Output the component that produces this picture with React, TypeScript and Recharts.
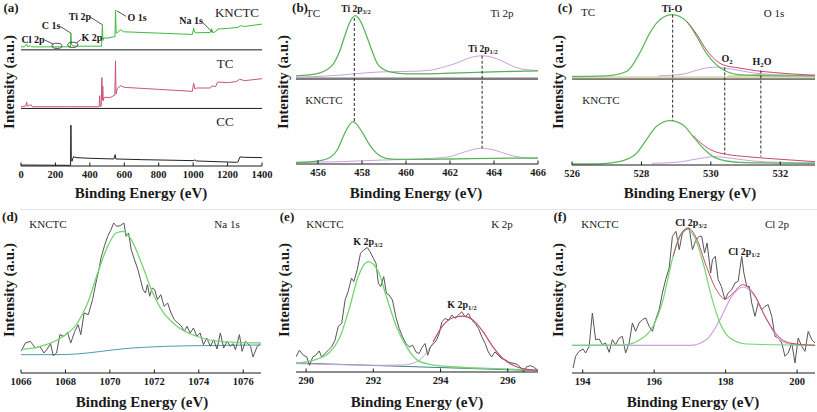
import React from 'react'
import { ComposedChart, Line, XAxis, YAxis, ReferenceLine, ReferenceDot } from 'recharts'

const SERIF = '"Liberation Serif", "Times New Roman", Tinos, serif'
const INK = '#1a1a1a'
const GREEN = '#72d672'
const PURPLE = '#cca0de'
const RED = '#c44a6c'
const RAW = '#555555'

// ---- (a) survey spectra, stacked (y = height) ----
const A_TICKS = [0, 200, 400, 600, 800, 1000, 1200, 1400]
const A_MINOR = [100, 300, 500, 700, 900, 1100, 1300]
const A_KNCTC_X = [0, 20, 33, 38, 55, 62, 150, 280, 287, 290, 293, 300, 330, 468, 473, 476, 480, 500, 540, 546, 549, 553, 562, 578, 595, 700, 800, 900, 995, 1003, 1008, 1020, 1100, 1108, 1113, 1130, 1142, 1200, 1260, 1275, 1300, 1400]
const A_KNCTC = [356, 356, 364, 357, 359, 356, 356, 356, 356, 397, 364, 359, 358, 358, 422, 375, 383, 382, 386, 386, 465, 397, 399, 407, 401, 399, 397, 395, 393, 412, 400, 398, 399, 410, 399, 401, 409, 411, 414, 419, 417, 424]
const A_TC_X = [0, 28, 33, 37, 58, 65, 280, 450, 454, 457, 460, 466, 470, 472, 475, 478, 482, 520, 545, 549, 552, 560, 580, 600, 800, 995, 1003, 1010, 1020, 1100, 1110, 1130, 1142, 1200, 1250, 1270, 1300, 1400]
const A_TC = [177, 179, 191, 179, 183, 177, 177, 177, 177, 210, 178, 179, 264, 197, 239, 195, 205, 205, 212, 314, 215, 232, 240, 235, 229, 223, 247, 230, 233, 233, 239, 237, 251, 249, 252, 259, 255, 261]
const A_CC_X = [0, 285, 288, 290, 292, 296, 305, 320, 400, 540, 547, 551, 700, 900, 1000, 1010, 1020, 1250, 1260, 1272, 1300, 1400]
const A_CC = [3, 2, 2, 122, 20, 14, 28, 25, 23, 21, 34, 21, 19, 17, 16, 18, 15, 11, 12, 27, 26, 25]

// ---- (b) Ti 2p ----
const B_TICKS = [456, 458, 460, 462, 464, 466]
const B_MINOR = [455, 457, 459, 461, 463, 465]
const B_TC_P32_X = [455, 455.5, 456, 456.4, 456.7, 457, 457.2, 457.45, 457.7, 457.95, 458.2, 458.45, 458.7, 459, 459.4, 460, 461, 462, 464, 466]
const B_TC_P32 = [264, 266, 271, 282, 300, 340, 380, 425, 444, 425, 385, 340, 300, 283, 274, 270, 270, 272, 276, 279]
const B_TC_P12_X = [455, 456, 457, 458, 459, 460, 461, 461.8, 462.3, 462.8, 463.46, 464, 464.5, 465, 465.5, 466]
const B_TC_P12 = [260, 262, 266, 272, 276, 277, 280, 292, 302, 316, 324, 318, 304, 289, 282, 280]
const B_K_P32_X = [455, 455.5, 456, 456.5, 456.9, 457.2, 457.6, 458, 458.3, 458.7, 459.1, 459.6, 460.5, 462, 464, 466]
const B_K_P32 = [5, 6, 9, 18, 45, 90, 127, 96, 62, 30, 17, 14, 14, 15, 17, 18]
const B_K_P12_X = [455, 457, 459, 461, 462, 462.7, 463.4, 464, 464.6, 465.2, 466]
const B_K_P12 = [4, 7, 12, 16, 22, 37, 47, 42, 29, 20, 16]

// ---- (c) O 1s ----
const C_TICKS = [526, 528, 530, 532]
const C_MINOR = [527, 529, 531, 533]
const C_TC_TIO_X = [526, 526.99, 527.57, 527.95, 528.24, 528.53, 528.89, 529.3, 529.59, 529.87, 530.16, 530.45, 530.84, 531.8, 533]
const C_TC_TIO = [265, 267, 280, 335, 395, 435, 450, 430, 385, 335, 300, 280, 270, 267, 267]
const C_TC_SUM_X = [529.3, 529.59, 529.87, 530.35, 530.84, 531.32, 531.8, 532.77, 533]
const C_TC_SUM = [430, 392, 345, 300, 290, 282, 277, 270, 269]
const C_TC_O2_X = [528.5, 529.2, 529.6, 530.1, 530.6, 531.2, 531.8, 533]
const C_TC_O2 = [267, 272, 284, 293, 287, 276, 270, 267]
const C_TC_H2O_X = [530.5, 531, 531.5, 532, 532.5, 533]
const C_TC_H2O = [266, 268, 272, 270, 268, 267]
const C_K_TIO_X = [526, 526.5, 526.99, 527.47, 527.86, 528.14, 528.43, 528.82, 529.2, 529.49, 529.78, 530.07, 530.45, 531.03, 533]
const C_K_TIO = [3, 3, 5, 13, 35, 75, 115, 133, 120, 85, 50, 25, 12, 7, 5]
const C_K_SUM_X = [529.49, 529.78, 530.07, 530.45, 531.03, 531.6, 532.3, 533]
const C_K_SUM = [88, 60, 42, 32, 25, 20, 15, 10]
const C_K_O2_X = [528.3, 529, 529.6, 530.1, 530.6, 531.2, 532, 533]
const C_K_O2 = [5, 8, 18, 25, 20, 12, 8, 6]

// ---- (d) Na 1s ----
const D_TICKS = [1066, 1068, 1070, 1072, 1074, 1076]
const D_MINOR = [1067, 1069, 1071, 1073, 1075]
const D_RAW_X = [1066.0, 1066.2, 1066.42, 1066.65, 1066.85, 1067.03, 1067.18, 1067.33, 1067.45, 1067.6, 1067.75, 1067.94, 1068.09, 1068.24, 1068.42, 1068.57, 1068.69, 1068.84, 1069.03, 1069.22, 1069.37, 1069.49, 1069.6, 1069.75, 1069.9, 1070.05, 1070.17, 1070.31, 1070.46, 1070.63, 1070.73, 1070.84, 1070.96, 1071.08, 1071.16, 1071.26, 1071.38, 1071.49, 1071.6, 1071.69, 1071.79, 1071.9, 1072.02, 1072.14, 1072.29, 1072.44, 1072.6, 1072.75, 1072.9, 1073.05, 1073.2, 1073.35, 1073.47, 1073.61, 1073.76, 1073.91, 1074.06, 1074.21, 1074.36, 1074.52, 1074.67, 1074.82, 1074.97, 1075.12, 1075.27, 1075.42, 1075.54, 1075.65, 1075.83, 1075.95, 1076.1, 1076.33, 1076.44, 1076.63, 1076.74]
const D_RAW = [65, 90, 95, 75, 80, 60, 72, 88, 52, 60, 115, 110, 122, 90, 125, 145, 115, 180, 175, 220, 270, 305, 345, 380, 410, 430, 450, 440, 442, 450, 410, 420, 370, 345, 330, 310, 280, 250, 240, 265, 230, 255, 250, 220, 235, 200, 210, 180, 160, 150, 142, 125, 140, 120, 135, 110, 120, 85, 105, 80, 100, 72, 120, 75, 95, 80, 88, 70, 115, 65, 95, 80, 48, 80, 85]
const D_FIT_X = [1066, 1066.88, 1067.78, 1068.54, 1069.0, 1069.45, 1069.9, 1070.28, 1070.58, 1070.96, 1071.42, 1071.87, 1072.32, 1072.93, 1073.53, 1074.14, 1074.9, 1075.65, 1076.8]
const D_FIT = [70, 80, 105, 150, 210, 300, 380, 420, 425, 400, 330, 250, 190, 145, 120, 105, 95, 92, 90]
const D_BG_X = [1066, 1067.5, 1068.5, 1069.5, 1070.5, 1071.5, 1072.5, 1074, 1076.8]
const D_BG = [55, 55, 57, 64, 72, 77, 80, 82, 84]

// ---- (e) K 2p ----
const E_TICKS = [290, 292, 294, 296]
const E_MINOR = [291, 293, 295]
const E_RAW_X = [289.7, 289.8, 289.92, 290.02, 290.1, 290.2, 290.29, 290.39, 290.46, 290.56, 290.66, 290.76, 290.86, 290.96, 291.06, 291.16, 291.25, 291.35, 291.42, 291.52, 291.62, 291.72, 291.82, 291.9, 292.0, 292.08, 292.15, 292.22, 292.31, 292.39, 292.47, 292.57, 292.67, 292.77, 292.87, 292.97, 293.07, 293.17, 293.27, 293.36, 293.46, 293.54, 293.62, 293.7, 293.8, 293.88, 293.96, 294.04, 294.14, 294.24, 294.34, 294.43, 294.53, 294.63, 294.73, 294.83, 294.93, 295.03, 295.13, 295.23, 295.33, 295.42, 295.52, 295.62, 295.72, 295.82, 295.92, 296.02, 296.12, 296.22, 296.32, 296.41, 296.47, 296.55, 296.67, 296.77, 296.9]
const E_RAW = [45, 65, 50, 45, 20, 45, 50, 63, 45, 55, 65, 75, 95, 137, 145, 215, 240, 280, 270, 305, 355, 365, 372, 360, 340, 325, 265, 255, 285, 235, 230, 215, 165, 130, 105, 85, 75, 80, 60, 55, 75, 85, 50, 75, 85, 95, 115, 150, 160, 155, 170, 160, 170, 180, 165, 175, 155, 145, 130, 105, 85, 60, 45, 60, 50, 40, 37, 30, 27, 25, 20, 10, 0, 15, 19, 15, 5]
const E_P32_X = [289.7, 290.21, 290.71, 291.01, 291.3, 291.55, 291.85, 292.15, 292.39, 292.69, 292.99, 293.29, 293.68, 294.47, 295.66, 296.9]
const E_P32 = [27, 35, 60, 105, 195, 285, 330, 300, 225, 135, 75, 37, 23, 15, 10, 5]
const E_P12_X = [293.78, 294.08, 294.37, 294.65, 294.97, 295.27, 295.56, 295.86, 296.16, 296.45, 296.9]
const E_P12 = [90, 140, 162, 167, 155, 120, 75, 40, 20, 10, 5]
const E_LILAC_X = [289.7, 290.91, 292.2, 292.89, 293.29, 293.58, 293.78]
const E_LILAC = [25, 22, 20, 21, 30, 58, 88]
const E_BG_X = [289.7, 296.9]
const E_BG = [27, 4]

// ---- (f) Cl 2p ----
const F_TICKS = [194, 196, 198, 200]
const F_MINOR = [195, 197, 199]
const F_RAW_X = [193.73, 193.8, 193.9, 194.01, 194.08, 194.18, 194.27, 194.36, 194.46, 194.55, 194.64, 194.74, 194.83, 194.92, 195.02, 195.11, 195.2, 195.3, 195.39, 195.48, 195.58, 195.67, 195.76, 195.86, 195.95, 196.04, 196.14, 196.23, 196.32, 196.42, 196.51, 196.61, 196.7, 196.79, 196.89, 196.98, 197.07, 197.17, 197.26, 197.33, 197.41, 197.48, 197.58, 197.63, 197.71, 197.79, 197.88, 197.98, 198.07, 198.17, 198.26, 198.35, 198.45, 198.51, 198.59, 198.66, 198.73, 198.82, 198.91, 199.01, 199.1, 199.19, 199.29, 199.38, 199.47, 199.57, 199.66, 199.75, 199.85, 199.94, 200.03, 200.13, 200.22, 200.31, 200.41, 200.5]
const F_RAW = [15, 50, 65, 72, 60, 80, 180, 100, 102, 85, 90, 62, 100, 85, 105, 110, 60, 90, 150, 125, 150, 160, 165, 140, 125, 160, 190, 240, 280, 315, 410, 425, 370, 420, 430, 435, 370, 400, 410, 410, 360, 390, 300, 340, 350, 280, 260, 220, 240, 250, 270, 275, 350, 300, 260, 260, 210, 170, 210, 190, 200, 205, 170, 110, 105, 90, 50, 60, 90, 30, 105, 80, 65, 125, 100, 90]
const F_P32_X = [193.7, 195.13, 195.6, 195.97, 196.25, 196.48, 196.67, 196.9, 197.14, 197.37, 197.6, 197.84, 198.12, 198.59, 200.5]
const F_P32 = [83, 84, 100, 140, 220, 330, 400, 432, 405, 330, 230, 150, 105, 87, 83]
const F_P12_X = [193.7, 197.0, 197.46, 197.84, 198.17, 198.49, 198.82, 199.15, 199.43, 199.8, 200.5]
const F_P12 = [83, 83, 100, 160, 230, 258, 230, 160, 110, 87, 83]
const F_SUM_X = [196.53, 196.72, 196.95, 197.18, 197.46, 197.74, 197.98, 198.21, 198.47, 198.77, 199.1, 199.43, 199.8, 200.5]
const F_SUM = [350, 410, 435, 405, 320, 250, 222, 240, 265, 240, 170, 115, 90, 83]

const pts = (xs: number[], ys: number[]) => xs.map((x, i) => ({ x, y: ys[i] }))

type Series = { data: { x: number; y: number }[]; color: string; width?: number; curve?: 'linear' | 'monotone'; opacity?: number }
type Seg = { x1: number; y1: number; x2: number; y2: number; dash?: boolean }

interface PanelProps {
  left: number
  top: number
  w: number
  h: number
  xDomain: [number, number]
  ticks: number[]
  minor: number[]
  yMax: number
  series: Series[]
  segs?: Seg[]
  seps?: { y: number; color: string; width: number }[]
  rings?: { x: number; y: number }[]
}

const PAD = 16
const AX = 22

function Panel({ left, top, w, h, xDomain, ticks, minor, yMax, series, segs = [], seps = [], rings = [] }: PanelProps) {
  return (
    <div style={{ position: 'absolute', left: left - PAD, top: top - 2 }}>
      <ComposedChart width={w + PAD * 2} height={h + 2 + AX} margin={{ top: 2, right: PAD, bottom: 0, left: PAD }}>
        <XAxis xAxisId="m" type="number" dataKey="x" domain={xDomain} ticks={minor} interval={0} height={0}
          tickSize={-2} tickFormatter={() => ''} axisLine={false} stroke={INK} allowDataOverflow />
        <XAxis type="number" dataKey="x" domain={xDomain} ticks={ticks} interval={0} height={AX}
          tickSize={-3.5} tickMargin={8} stroke={INK} allowDataOverflow
          tick={{ fontSize: 10.5, fontWeight: 700, fill: INK, fontFamily: SERIF }} />
        <XAxis xAxisId="t" orientation="top" type="number" domain={xDomain} height={0} tick={false} tickLine={false} stroke={INK} />
        <YAxis type="number" domain={[0, yMax]} width={0} tick={false} tickLine={false} stroke={INK} allowDataOverflow />
        <YAxis yAxisId="r" orientation="right" type="number" domain={[0, 1]} width={0} tick={false} tickLine={false} stroke={INK} />
        {seps.map((s, i) => (
          <ReferenceLine key={'s' + i} y={s.y} stroke={s.color} strokeWidth={s.width} />
        ))}
        {series.map((s, i) => (
          <Line key={i} data={s.data} dataKey="y" type={s.curve ?? 'linear'} stroke={s.color}
            strokeWidth={s.width ?? 1} strokeOpacity={s.opacity ?? 1} dot={false} activeDot={false}
            isAnimationActive={false} />
        ))}
        {segs.map((s, i) => (
          <ReferenceLine key={'g' + i} segment={[{ x: s.x1, y: s.y1 }, { x: s.x2, y: s.y2 }]}
            stroke="#2a2a2a" strokeWidth={s.dash ? 1 : 0.8} strokeDasharray={s.dash ? '3 2' : undefined} />
        ))}
        {rings.map((r, i) => (
          <ReferenceDot key={'r' + i} x={r.x} y={r.y} r={4}
            shape={(p: any) => <ellipse cx={p.cx} cy={p.cy} rx={5} ry={2.6} fill="none" stroke="#2a2a2a" strokeWidth={0.8} />} />
        ))}
      </ComposedChart>
    </div>
  )
}

function Txt({ x, y, bold, size = 11, rotate, children }: { x: number; y: number; bold?: boolean; size?: number; rotate?: boolean; children: React.ReactNode }) {
  return (
    <div style={{
      position: 'absolute', left: x, top: y, whiteSpace: 'nowrap', lineHeight: 1,
      transform: `translate(-50%, -50%)${rotate ? ' rotate(-90deg)' : ''}`,
      fontFamily: SERIF, fontSize: size, fontWeight: bold ? 700 : 400, color: INK,
    }}>{children}</div>
  )
}

const Sub = ({ c }: { c: string }) => (
  <span style={{ fontSize: '0.68em', position: 'relative', top: '0.3em' }}>{c}</span>
)

const XT = 'Binding Energy (eV)'
const YT = 'Intensity (a.u.)'

export default function App() {
  return (
    <div style={{ position: 'absolute', left: 0, top: 0, width: 817, height: 412, background: '#fff', overflow: 'hidden' }}>
      <div style={{ position: 'absolute', left: 20, top: 209, width: 797, height: 1, background: '#e4e4e4' }} />
      {/* (a) survey */}
      <Panel left={21} top={3} w={241} h={163} xDomain={[0, 1400]} ticks={A_TICKS} minor={A_MINOR} yMax={487}
        seps={[{ y: 172, color: INK, width: 1 }, { y: 347, color: INK, width: 1 }]}
        series={[
          { data: pts(A_KNCTC_X, A_KNCTC), color: '#3dbb3d' },
          { data: pts(A_TC_X, A_TC), color: '#c9557a' },
          { data: pts(A_CC_X, A_CC), color: '#222' },
        ]}
        segs={[
          { x1: 135, y1: 377, x2: 189, y2: 364 },
          { x1: 228, y1: 417, x2: 290, y2: 397 },
          { x1: 350, y1: 379, x2: 321, y2: 367 },
          { x1: 402, y1: 445, x2: 473, y2: 422 },
          { x1: 610, y1: 447, x2: 556, y2: 464 },
          { x1: 1049, y1: 432, x2: 1112, y2: 400 },
        ]}
        rings={[{ x: 209, y: 359 }, { x: 301, y: 362 }]}
      />
      {/* (b) Ti 2p */}
      <Panel left={296} top={3} w={242} h={161} xDomain={[455, 466]} ticks={B_TICKS} minor={B_MINOR} yMax={482}
        seps={[{ y: 255, color: '#7d7d7d', width: 2.5 }]}
        series={[
          { data: pts(B_TC_P12_X, B_TC_P12), color: PURPLE, curve: 'monotone' },
          { data: pts(B_TC_P32_X, B_TC_P32), color: GREEN, curve: 'monotone', width: 1.3 },
          { data: pts(B_TC_P32_X, B_TC_P32), color: '#2b4a2b', curve: 'monotone', width: 0.7, opacity: 0.45 },
          { data: pts(B_K_P12_X, B_K_P12), color: PURPLE, curve: 'monotone' },
          { data: pts(B_K_P32_X, B_K_P32), color: GREEN, curve: 'monotone', width: 1.3 },
          { data: pts(B_K_P32_X, B_K_P32), color: '#2b4a2b', curve: 'monotone', width: 0.7, opacity: 0.45 },
        ]}
        segs={[
          { x1: 457.65, y1: 437, x2: 457.65, y2: 122, dash: true },
          { x1: 463.46, y1: 324, x2: 463.46, y2: 47, dash: true },
        ]}
      />
      {/* (c) O 1s */}
      <Panel left={572} top={3} w={243} h={162} xDomain={[526, 533]} ticks={C_TICKS} minor={C_MINOR} yMax={485}
        seps={[{ y: 258, color: '#7d7d7d', width: 2.5 }, { y: 263, color: '#ddd6b0', width: 2 }]}
        series={[
          { data: pts(C_TC_H2O_X, C_TC_H2O), color: '#c9c27a' },
          { data: pts(C_TC_O2_X, C_TC_O2), color: PURPLE, curve: 'monotone' },
          { data: pts(C_TC_TIO_X, C_TC_TIO), color: GREEN, curve: 'monotone', width: 1.3 },
          { data: pts(C_TC_TIO_X, C_TC_TIO), color: '#2b4a2b', curve: 'monotone', width: 0.7, opacity: 0.4 },
          { data: pts(C_TC_SUM_X, C_TC_SUM), color: RED, curve: 'monotone' },
          { data: pts(C_K_O2_X, C_K_O2), color: PURPLE, curve: 'monotone' },
          { data: pts(C_K_TIO_X, C_K_TIO), color: GREEN, curve: 'monotone', width: 1.3 },
          { data: pts(C_K_TIO_X, C_K_TIO), color: '#2b4a2b', curve: 'monotone', width: 0.7, opacity: 0.4 },
          { data: pts(C_K_SUM_X, C_K_SUM), color: RED, curve: 'monotone' },
        ]}
        segs={[
          { x1: 528.9, y1: 450, x2: 528.9, y2: 133, dash: true },
          { x1: 530.4, y1: 292, x2: 530.4, y2: 32, dash: true },
          { x1: 531.44, y1: 283, x2: 531.44, y2: 25, dash: true },
        ]}
      />
      {/* (d) Na 1s */}
      <Panel left={21} top={213} w={240} h={160} xDomain={[1066, 1076.8]} ticks={D_TICKS} minor={D_MINOR} yMax={480}
        series={[
          { data: pts(D_BG_X, D_BG), color: '#4d9ea6', curve: 'monotone' },
          { data: pts(D_RAW_X, D_RAW), color: RAW },
          { data: pts(D_FIT_X, D_FIT), color: GREEN, curve: 'monotone', width: 1.3 },
        ]}
      />
      {/* (e) K 2p */}
      <Panel left={296} top={213} w={242} h={159} xDomain={[289.7, 296.9]} ticks={E_TICKS} minor={E_MINOR} yMax={475}
        series={[
          { data: pts(E_BG_X, E_BG), color: '#3f7f86' },
          { data: pts(E_LILAC_X, E_LILAC), color: PURPLE, curve: 'monotone' },
          { data: pts(E_RAW_X, E_RAW), color: RAW },
          { data: pts(E_P32_X, E_P32), color: GREEN, curve: 'monotone', width: 1.3 },
          { data: pts(E_P12_X, E_P12), color: RED, curve: 'monotone', width: 1.2 },
        ]}
      />
      {/* (f) Cl 2p */}
      <Panel left={572} top={213} w={243} h={160} xDomain={[193.7, 200.5]} ticks={F_TICKS} minor={F_MINOR} yMax={480}
        series={[
          { data: pts(F_RAW_X, F_RAW), color: RAW },
          { data: pts(F_P12_X, F_P12), color: PURPLE, curve: 'monotone', width: 1.2 },
          { data: pts(F_P32_X, F_P32), color: GREEN, curve: 'monotone', width: 1.2 },
          { data: pts(F_SUM_X, F_SUM), color: RED, curve: 'monotone' },
        ]}
      />

      {/* axis titles */}
      <Txt x={141} y={193} bold size={15}>{XT}</Txt>
      <Txt x={416} y={193} bold size={15}>{XT}</Txt>
      <Txt x={690} y={193} bold size={15}>{XT}</Txt>
      <Txt x={142} y={402} bold size={15}>{XT}</Txt>
      <Txt x={417} y={402} bold size={15}>{XT}</Txt>
      <Txt x={693} y={402} bold size={15}>{XT}</Txt>
      <Txt x={9} y={82} bold size={15} rotate>{YT}</Txt>
      <Txt x={283} y={82} bold size={15} rotate>{YT}</Txt>
      <Txt x={558} y={82} bold size={15} rotate>{YT}</Txt>
      <Txt x={9} y={290} bold size={15} rotate>{YT}</Txt>
      <Txt x={284} y={290} bold size={15} rotate>{YT}</Txt>
      <Txt x={558} y={290} bold size={15} rotate>{YT}</Txt>

      {/* (a) labels */}
      <Txt x={11} y={7} bold size={13}>(a)</Txt>
      <Txt x={33} y={40} bold size={10}>Cl 2p</Txt>
      <Txt x={51} y={26} bold size={10}>C 1s</Txt>
      <Txt x={80} y={17} bold size={10}>Ti 2p</Txt>
      <Txt x={92} y={38} bold size={10}>K 2p</Txt>
      <Txt x={137} y={18} bold size={10}>O 1s</Txt>
      <Txt x={191} y={21} bold size={10}>Na 1s</Txt>
      <Txt x={237} y={12} size={13}>KNCTC</Txt>
      <Txt x={225} y={63} size={13}>TC</Txt>
      <Txt x={225} y={121} size={13}>CC</Txt>

      {/* (b) labels */}
      <Txt x={300} y={7} bold size={13}>(b)</Txt>
      <Txt x={313} y={13}>TC</Txt>
      <Txt x={356} y={10} bold size={9.5}>Ti 2p<Sub c="3/2" /></Txt>
      <Txt x={502} y={13}>Ti 2p</Txt>
      <Txt x={483} y={50} bold size={9.5}>Ti 2p<Sub c="1/2" /></Txt>
      <Txt x={324} y={100}>KNCTC</Txt>

      {/* (c) labels */}
      <Txt x={565} y={7} bold size={13}>(c)</Txt>
      <Txt x={588} y={12}>TC</Txt>
      <Txt x={672} y={9} bold size={10}>Ti-O</Txt>
      <Txt x={774} y={13}>O 1s</Txt>
      <Txt x={727} y={59} bold size={10}>O<Sub c="2" /></Txt>
      <Txt x={762} y={62} bold size={10}>H<Sub c="2" />O</Txt>
      <Txt x={601} y={100}>KNCTC</Txt>

      {/* (d) labels */}
      <Txt x={10} y={216} bold size={13}>(d)</Txt>
      <Txt x={48} y={224}>KNCTC</Txt>
      <Txt x={227} y={224}>Na 1s</Txt>

      {/* (e) labels */}
      <Txt x={287} y={216} bold size={13}>(e)</Txt>
      <Txt x={325} y={224}>KNCTC</Txt>
      <Txt x={502} y={224}>K 2p</Txt>
      <Txt x={368} y={242} bold size={10}>K 2p<Sub c="3/2" /></Txt>
      <Txt x={462} y={305} bold size={10}>K 2p<Sub c="1/2" /></Txt>

      {/* (f) labels */}
      <Txt x={560} y={216} bold size={13}>(f)</Txt>
      <Txt x={600} y={224}>KNCTC</Txt>
      <Txt x={691} y={223} bold size={10}>Cl 2p<Sub c="3/2" /></Txt>
      <Txt x={777} y={224}>Cl 2p</Txt>
      <Txt x={744} y={252} bold size={10}>Cl 2p<Sub c="1/2" /></Txt>
    </div>
  )
}
